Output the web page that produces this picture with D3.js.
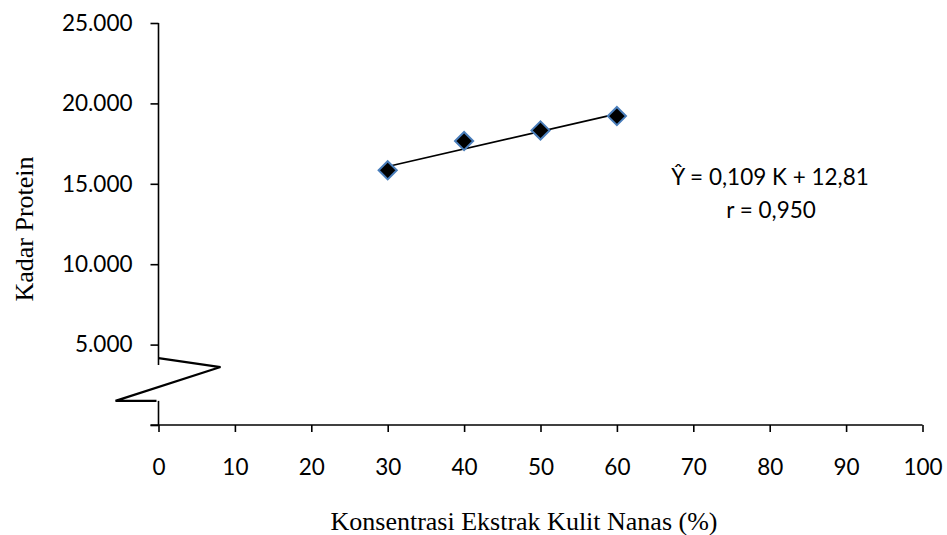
<!DOCTYPE html>
<html>
<head>
<meta charset="utf-8">
<script src="https://cdn.jsdelivr.net/npm/d3@7"></script>
<style>
  html, body { margin: 0; padding: 0; background: #fff; }
  svg { display: block; }
  .tick text { font-family: Lato, "Open Sans", sans-serif; font-size: 22.5px; fill: #000; }
</style>
</head>
<body>
<svg id="chart" width="947" height="535"></svg>
<script>
// Konsentrasi ekstrak kulit nanas (%) and measured protein content
const konsentrasi = [30, 40, 50, 60];
const kadarProtein = [15.84, 17.66, 18.32, 19.21];

// Regression line as stated in the equation label
const slope = 0.109;
const intercept = 12.81;
const rValue = "0,950";

const xTicks = [0, 10, 20, 30, 40, 50, 60, 70, 80, 90, 100];
const yTicks = [0, 5, 10, 15, 20, 25];

// Axis break drawn between these two y values
const breakTop = 4.1;
const breakBottom = 1.5;

const svg = d3.select("#chart");

const x = d3.scaleLinear().domain([0, 100]).range([158.5, 922.5]);
const y = d3.scaleLinear().domain([0, 25]).range([425, 23]);

const ink = "#000";
const lw = 1.6;

// X axis
const xAxis = d3.axisBottom(x)
  .tickValues(xTicks)
  .tickSize(7)
  .tickPadding(27)
  .tickFormat(d3.format("d"));
const gx = svg.append("g").attr("transform", `translate(0,${y(0)})`).call(xAxis);
gx.select(".domain").remove();
gx.selectAll(".tick line").attr("stroke", ink).attr("stroke-width", lw);

// Y axis (labels only above the break)
const yAxis = d3.axisLeft(y)
  .tickValues(yTicks)
  .tickSize(8)
  .tickPadding(18)
  .tickFormat(d => d === 0 ? "" : d3.format(".3f")(d));
const gy = svg.append("g").attr("transform", `translate(${x(0)},0)`).call(yAxis);
gy.select(".domain").remove();
gy.selectAll(".tick line").attr("stroke", ink).attr("stroke-width", lw);

// Axis lines
svg.append("line")
  .attr("x1", x(0) - 8).attr("x2", x(100))
  .attr("y1", y(0)).attr("y2", y(0))
  .attr("stroke", ink).attr("stroke-width", lw);

svg.append("line")
  .attr("x1", x(0)).attr("x2", x(0))
  .attr("y1", y(25)).attr("y2", y(breakTop) + 6)
  .attr("stroke", ink).attr("stroke-width", lw);

svg.append("line")
  .attr("x1", x(0)).attr("x2", x(0))
  .attr("y1", y(breakBottom)).attr("y2", y(0))
  .attr("stroke", ink).attr("stroke-width", lw);

// Zigzag break marker on the y axis
const zig = [
  [x(0), y(breakTop) - 1],
  [x(0) + 62, y(breakTop) + 8],
  [x(0) - 43, y(breakBottom)],
  [x(0) - 2, y(breakBottom)]
];
svg.append("path")
  .attr("d", d3.line()(zig))
  .attr("fill", "none")
  .attr("stroke", ink)
  .attr("stroke-width", 2.2)
  .attr("stroke-linejoin", "miter");

// Trend line over the observed range
const xr = d3.extent(konsentrasi);
svg.append("line")
  .attr("x1", x(xr[0])).attr("y1", y(intercept + slope * xr[0]))
  .attr("x2", x(xr[1])).attr("y2", y(intercept + slope * xr[1]))
  .attr("stroke", ink).attr("stroke-width", 1.6);

// Diamond markers
const diamond = d3.symbol().type(d3.symbolDiamond2).size(210);
svg.append("g").selectAll("path")
  .data(konsentrasi.map((k, i) => [k, kadarProtein[i]]))
  .join("path")
  .attr("d", diamond)
  .attr("transform", d => `translate(${x(d[0])},${y(d[1])})`)
  .attr("fill", "#000")
  .attr("stroke", "#4a7ebb")
  .attr("stroke-width", 2);

// Equation and correlation
const eq = svg.append("g")
  .attr("font-family", "Lato, 'Open Sans', sans-serif")
  .attr("font-size", 22.5)
  .attr("text-anchor", "middle")
  .attr("fill", ink);
eq.append("text").attr("x", 770).attr("y", 185)
  .text(`Ŷ = ${d3.format(".3f")(slope).replace(".", ",")} K + ${d3.format(".2f")(intercept).replace(".", ",")}`);
eq.append("text").attr("x", 771).attr("y", 218)
  .text(`r = ${rValue}`);

// Axis titles
svg.append("text")
  .attr("x", 524).attr("y", 530)
  .attr("text-anchor", "middle")
  .attr("font-family", "'Liberation Serif', 'Times New Roman', serif")
  .attr("font-size", 26)
  .attr("fill", ink)
  .text("Konsentrasi Ekstrak Kulit Nanas (%)");

svg.append("text")
  .attr("transform", "translate(33,229) rotate(-90)")
  .attr("text-anchor", "middle")
  .attr("font-family", "'Liberation Serif', 'Times New Roman', serif")
  .attr("font-size", 26)
  .attr("fill", ink)
  .text("Kadar Protein");
</script>
</body>
</html>
